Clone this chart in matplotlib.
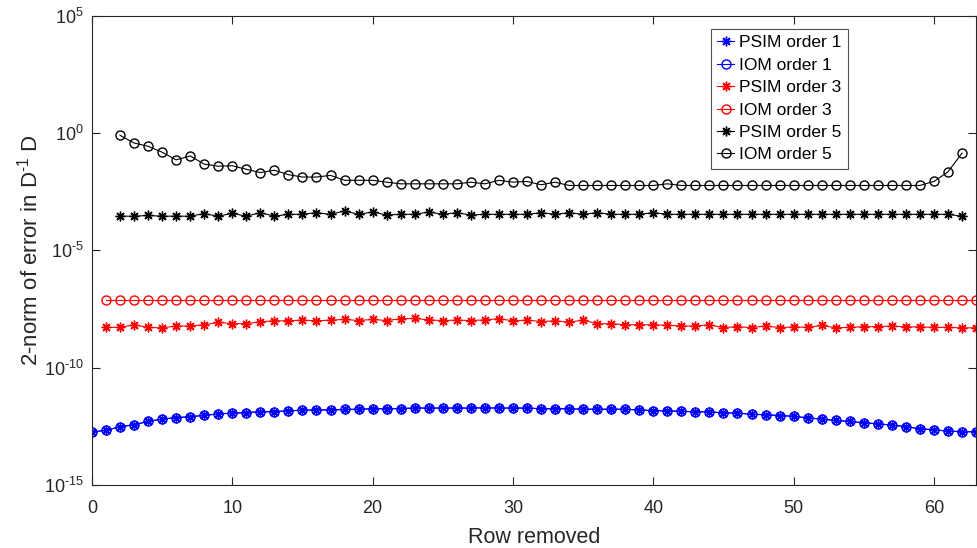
import numpy as np
import matplotlib
matplotlib.use("Agg")
import matplotlib.pyplot as plt
from matplotlib.ticker import FixedLocator, NullLocator, FuncFormatter

plt.rcParams['font.family'] = ['Liberation Sans', 'DejaVu Sans']
plt.rcParams['mathtext.fontset'] = 'custom'
plt.rcParams['mathtext.rm'] = 'Liberation Sans'
plt.rcParams['mathtext.it'] = 'Liberation Sans'
plt.rcParams['mathtext.default'] = 'regular'
plt.rcParams['axes.unicode_minus'] = False

# data as log10 of the error
x_o1 = np.arange(0, 64)
psim1_log = [-12.74, -12.67, -12.52, -12.43, -12.29, -12.19, -12.13, -12.09,
             -12.03, -11.97, -11.94, -11.91, -11.88, -11.87, -11.84, -11.81,
             -11.80, -11.80, -11.78, -11.77, -11.75, -11.75, -11.74, -11.72,
             -11.72, -11.72, -11.72, -11.72, -11.71, -11.72, -11.72, -11.72,
             -11.75, -11.75, -11.75, -11.77, -11.77, -11.77, -11.77, -11.80,
             -11.83, -11.84, -11.86, -11.88, -11.88, -11.93, -11.93, -11.99,
             -12.00, -12.04, -12.07, -12.14, -12.19, -12.25, -12.29, -12.35,
             -12.39, -12.45, -12.51, -12.61, -12.64, -12.71, -12.72, -12.74]
iom1_log = psim1_log

x_o3 = np.arange(1, 64)
psim3_log = [-8.28, -8.28, -8.17, -8.28, -8.30, -8.22, -8.22, -8.17, -8.07,
             -8.12, -8.12, -8.04, -8.00, -8.00, -7.97, -8.00, -7.97, -7.94,
             -7.99, -7.94, -7.99, -7.91, -7.90, -7.96, -7.99, -7.97, -7.99,
             -7.96, -7.91, -8.00, -7.97,
             -8.03, -8.00, -8.06, -7.97, -8.13, -8.12, -8.17, -8.17, -8.17,
             -8.19, -8.22, -8.22, -8.17, -8.29, -8.25, -8.29, -8.22, -8.29,
             -8.26, -8.28, -8.20, -8.30, -8.28, -8.25, -8.25, -8.22, -8.26,
             -8.26, -8.28, -8.28, -8.30, -8.30]
iom3_log = [-7.13] * 63

x_o5 = np.arange(2, 63)
psim5_log = [-3.54, -3.54, -3.51, -3.54, -3.54, -3.54, -3.43, -3.54, -3.42,
             -3.54, -3.39, -3.54, -3.46, -3.46, -3.39, -3.46, -3.32, -3.46,
             -3.36, -3.49, -3.46, -3.46, -3.36, -3.46, -3.39, -3.49, -3.46,
             -3.46, -3.46, -3.46,
             -3.39, -3.46, -3.39, -3.46, -3.39, -3.46, -3.46, -3.46, -3.39,
             -3.46, -3.46, -3.46, -3.46, -3.46, -3.46, -3.46, -3.46, -3.46,
             -3.46, -3.46, -3.46, -3.46, -3.46, -3.46, -3.46, -3.46, -3.46,
             -3.46, -3.46, -3.46, -3.54]
iom5_log = [-0.09, -0.42, -0.56, -0.81, -1.14, -0.97, -1.32, -1.41, -1.39,
            -1.54, -1.68, -1.58, -1.77, -1.87, -1.87, -1.80, -2.01, -2.01,
            -2.01, -2.09, -2.16, -2.16, -2.16, -2.16, -2.16, -2.09, -2.16,
            -2.01, -2.09, -2.06,
            -2.20, -2.09, -2.23, -2.23, -2.23, -2.23, -2.23, -2.23, -2.23,
            -2.16, -2.23, -2.23, -2.23, -2.23, -2.23, -2.23, -2.23, -2.23,
            -2.23, -2.23, -2.23, -2.23, -2.23, -2.23, -2.23, -2.23, -2.23,
            -2.23, -2.06, -1.65, -0.85]

series = [
    ("PSIM order 1", x_o1, psim1_log, "blue", "star"),
    ("IOM order 1", x_o1, iom1_log, "blue", "circle"),
    ("PSIM order 3", x_o3, psim3_log, "red", "star"),
    ("IOM order 3", x_o3, iom3_log, "red", "circle"),
    ("PSIM order 5", x_o5, psim5_log, "black", "star"),
    ("IOM order 5", x_o5, iom5_log, "black", "circle"),
]

fig = plt.figure(figsize=(9.78, 5.48), dpi=100)
ax = fig.add_axes([0.094, 0.115, 0.904, 0.856])

for name, xs, logs, col, kind in series:
    ys = np.power(10.0, np.array(logs))
    if kind == "star":
        ax.plot(xs, ys, color=col, lw=0.8, marker=(8, 2, 0), ms=7,
                mew=1.0, label=name)
    else:
        ax.plot(xs, ys, color=col, lw=0.8, marker='o', ms=6.5,
                mfc='none', mew=1.0, label=name)


def log_label(v, pos):
    e = int(round(np.log10(v)))
    if e < 0:
        return r"$10^{\text{-}%d}$" % (-e)
    return r"$10^{%d}$" % e


ax.set_yscale('log')
ax.set_xlim(0, 63)
ax.set_ylim(1e-15, 1e5)
ax.xaxis.set_major_locator(FixedLocator([0, 10, 20, 30, 40, 50, 60]))
ax.yaxis.set_major_locator(FixedLocator([1e-15, 1e-10, 1e-5, 1e0, 1e5]))
ax.yaxis.set_minor_locator(NullLocator())
ax.yaxis.set_major_formatter(FuncFormatter(log_label))

edge = '#262626'
for s in ax.spines.values():
    s.set_color(edge)
    s.set_linewidth(0.8)
ax.tick_params(direction='in', length=6, width=0.8, colors=edge,
               labelcolor='#262626', labelsize=13, top=True, right=True)
ax.tick_params(axis='x', pad=11)
ax.tick_params(axis='y', pad=6)

ax.set_xlabel("Row removed", fontsize=15.5, color='#262626', labelpad=7)
ax.set_ylabel(r"2-norm of error in D$^{\text{-}1}$ D", fontsize=16,
              color='#262626', labelpad=1)

leg = ax.legend(loc='upper right', bbox_to_anchor=(0.855, 0.972),
                fontsize=12.5, frameon=True, fancybox=False, handlelength=1.0,
                handletextpad=0.3, borderpad=0.35, labelspacing=0.42,
                borderaxespad=0.0)
leg.get_frame().set_edgecolor(edge)
leg.get_frame().set_linewidth(0.8)

fig.savefig("out.png", dpi=100)
